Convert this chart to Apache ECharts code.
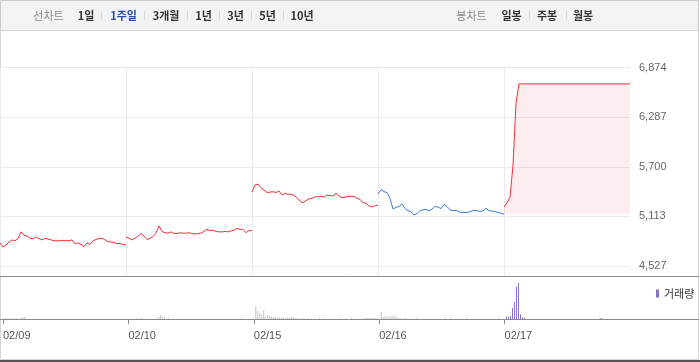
<!DOCTYPE html>
<html>
<head>
<meta charset="utf-8">
<script src="https://cdn.jsdelivr.net/npm/echarts@6/dist/echarts.min.js"></script>
<style>
html,body{margin:0;padding:0;background:#fff;}
#c{width:700px;height:362px;}
</style>
</head>
<body>
<div id="c"></div>
<script>
// ---- data ----
const dayLabels = ['02/09', '02/10', '02/15', '02/16', '02/17'];
const yTickLabels = ['4,527', '5,113', '5,700', '6,287', '6,874'];
const prevClose = 5140;

// price samples (evenly spaced through each session)
const day1 = [4800,4750,4775,4810,4835,4825,4850,4930,4890,4880,4855,4850,4870,4850,4835,4855,4845,4835,4825,4825,4825,4830,4825,4825,4835,4790,4800,4780,4755,4800,4780,4825,4840,4850,4855,4835,4815,4810,4805,4790,4795,4780,4775];
const day2 = [4870,4855,4835,4855,4880,4910,4880,4840,4855,4875,4915,5000,4935,4920,4915,4930,4910,4910,4920,4915,4915,4920,4910,4905,4910,4915,4935,4960,4945,4950,4935,4930,4930,4935,4930,4940,4950,4970,4960,4960,4920,4945,4945];
const day3 = [5400,5485,5495,5450,5425,5395,5400,5405,5395,5415,5365,5385,5375,5375,5360,5335,5295,5275,5300,5320,5325,5345,5345,5350,5340,5365,5360,5355,5385,5355,5335,5340,5350,5350,5350,5325,5315,5275,5270,5235,5225,5240,5245];
const day4 = [5375,5430,5405,5395,5330,5200,5220,5230,5260,5205,5180,5170,5130,5145,5180,5190,5195,5180,5200,5230,5225,5205,5255,5230,5190,5180,5185,5165,5160,5160,5160,5175,5185,5180,5170,5180,5210,5180,5175,5170,5160,5150,5140];
const day5 = [5225,5275,5340,5720,6450,
  6680,6680,6680,6680,6680,6680,6680,6680,6680,6680,
  6680,6680,6680,6680,6680,6680,6680,6680,6680,6680,
  6680,6680,6680,6680,6680,6680,6680,6680,6680,6680,
  6680,6680,6680,6680,6680,6680,6680,6680];

// volume samples (finer spacing)
const vol1 = [0,1000,800,0,1000,0,1200,800,0,1500,1500,2300,0,0,0,0,0,0,0,0,0,0,0,0,0,0,0,0,0,0,0,0,0,0,0,0,0,0,0,0,0,0,0,0,0,0,0,0,0,0,0,0,0,0,0,0,0,0,0,0,0,0,0];
const vol2 = [0,0,0,0,0,0,1000,800,0,0,0,0,0,0,0,1000,4300,2700,1700,0,1000,0,0,0,0,0,0,0,0,0,0,0,0,0,0,0,0,0,0,0,0,0,0,0,0,0,0,0,0,0,0,0,0,0,0,0,0,1000,0,0,0,0,0];
const vol3 = [0,12600,8000,6000,4300,8700,2000,3700,3300,2700,1500,2000,1200,1500,1000,1300,1000,1500,1200,2000,1300,800,1000,700,0,1000,0,800,0,600,0,0,0,700,0,600,0,0,0,0,0,0,0,700,0,0,0,0,0,1000,0,0,0,0,0,1000,800,1000,1000,1300,1000,1000,1200];
const vol4 = [0,6700,1500,2700,1700,2700,2300,3300,2700,1700,1000,1000,0,1000,0,0,0,0,0,1000,0,0,0,0,0,0,0,0,0,0,0,0,0,1000,0,0,1000,0,0,0,0,0,0,0,1000,0,0,0,0,0,0,0,0,0,0,0,0,0,0,0,1000,0,0];
const vol5 = [0,2300,2300,3000,11300,17300,32300,36300,4700,1700,1200,0,0,0,0,0,0,0,0,0,0,0,0,0,0,0,0,0,0,0,0,0,0,0,0,0,0,0,0,0,0,0,0,0,0,0,0,0,1000,1000,0,0,0,0,0,0,0,0,0,0,0,0,0];

// ---- build ----
const Y_MIN = 4526.5, Y_MAX = 6873.5, INTERVAL = 586.75;
const days = [day1, day2, day3, day4, day5];
const dayColors = ['#f2313b', '#f2313b', '#f2313b', '#3b7ddd', '#f2313b'];
const PK = day1.length - 1;               // price slots per day
const NP = PK * days.length + 1;
const priceCats = [];
for (let i = 0; i < NP; i++) priceCats.push(dayLabels[Math.min(Math.floor(i / PK), 4)] + '#' + (i % PK));
const vols = [vol1, vol2, vol3, vol4, vol5];
const VK = vol1.length;
const NV = VK * vols.length + 1;
const volCats = [];
for (let i = 0; i < NV; i++) volCats.push(dayLabels[Math.min(Math.floor(i / VK), 4)] + '@' + (i % VK));

const series = [];
days.forEach((arr, d) => {
  const data = new Array(NP).fill(null);
  arr.forEach((v, i) => { data[d * PK + i] = v; });
  const s = {
    type: 'line', xAxisIndex: 0, yAxisIndex: 0, data: data,
    symbol: 'none', silent: true, z: 3,
    lineStyle: { width: 1, color: dayColors[d] }
  };
  if (d === 4) {
    s.areaStyle = { origin: prevClose, color: 'rgba(245,60,70,0.13)' };
    s.markLine = {
      symbol: 'none', silent: true, label: { show: false },
      lineStyle: { type: [1, 2], color: '#555', width: 1 },
      data: [[{ coord: [priceCats[4 * PK], prevClose] }, { coord: [priceCats[5 * PK], prevClose] }]]
    };
  }
  series.push(s);
});
const grayVol = new Array(NV).fill(null);
const purpleVol = new Array(NV).fill(null);
vols.forEach((arr, d) => arr.forEach((v, j) => {
  if (d < 4) grayVol[d * VK + j] = v; else purpleVol[d * VK + j] = v;
}));
series.push({ type: 'bar', name: 'prev', xAxisIndex: 1, yAxisIndex: 1, data: grayVol, barWidth: 1, barGap: '-100%', itemStyle: { color: '#bfc2c8' }, silent: true });
series.push({ type: 'bar', name: '거래량', xAxisIndex: 1, yAxisIndex: 1, data: purpleVol, barWidth: 1, barGap: '-100%', itemStyle: { color: '#8670c2' }, silent: true });

const KR = '"Noto Sans CJK KR", sans-serif';
function t(text, x, color, bold) {
  return { type: 'text', x: x, y: 15.5, silent: true,
    style: { text: text, fill: color, font: (bold ? 'bold ' : '') + '11px ' + KR,
      align: 'center', verticalAlign: 'middle', textAlign: 'center', textVerticalAlign: 'middle' } };
}
function sep(x) {
  return { type: 'line', silent: true, shape: { x1: x + 0.5, y1: 11, x2: x + 0.5, y2: 20 }, style: { stroke: '#d9d9d9', lineWidth: 1 } };
}
const graphics = [
  { type: 'rect', silent: true, shape: { x: 0.5, y: 0.5, width: 698, height: 30 }, style: { fill: '#f2f3f7', stroke: '#c9cacd', lineWidth: 1 } },
  { type: 'rect', silent: true, shape: { x: 0.5, y: 30.5, width: 698, height: 329 }, style: { fill: 'none', stroke: '#d6d6d6', lineWidth: 1 } },
  { type: 'line', silent: true, shape: { x1: 0, y1: 276.5, x2: 699, y2: 276.5 }, style: { stroke: '#8a8a8a', lineWidth: 1 } },
  { type: 'line', silent: true, shape: { x1: 0, y1: 319.5, x2: 699, y2: 319.5 }, style: { stroke: '#8a8a8a', lineWidth: 1 } },
  { type: 'line', silent: true, shape: { x1: 0, y1: 361, x2: 700, y2: 361 }, style: { stroke: '#555', lineWidth: 2 } },
  t('선차트', 48.5, '#8a8a8a', false),
  t('1일', 86, '#333', true), sep(101),
  t('1주일', 123.5, '#2a4fa8', true), sep(144),
  t('3개월', 166, '#333', true), sep(187),
  t('1년', 203.5, '#333', true), sep(219),
  t('3년', 235.5, '#333', true), sep(251),
  t('5년', 267.5, '#333', true), sep(283),
  t('10년', 302, '#333', true),
  t('봉차트', 471.5, '#8a8a8a', false),
  t('일봉', 511.5, '#333', true), sep(529),
  t('주봉', 547, '#333', true), sep(566),
  t('월봉', 583, '#333', true)
];

const vSplit = { show: true, interval: (i) => i % PK === 0 && i < 5 * PK, lineStyle: { color: '#ebebeb', width: 1 } };

const chart = echarts.init(document.getElementById('c'), null, { renderer: 'canvas' });
chart.setOption({
  animation: false,
  backgroundColor: '#fff',
  grid: [
    { left: 0, top: 67.5, width: 630, height: 198.5 },
    { left: 0, top: 279, width: 630, height: 40 },
    { left: 0, top: 266, width: 630, height: 10 }
  ],
  legend: {
    data: ['거래량'], left: 651, top: 283, icon: 'rect', itemWidth: 3, itemHeight: 8,
    selectedMode: false, textStyle: { fontSize: 11, color: '#333', fontFamily: KR }
  },
  xAxis: [
    { type: 'category', gridIndex: 0, data: priceCats, boundaryGap: false,
      axisLine: { show: false }, axisTick: { show: false }, axisLabel: { show: false },
      splitLine: vSplit },
    { type: 'category', gridIndex: 1, data: volCats, boundaryGap: false,
      axisLine: { show: false },
      axisTick: { show: true, length: 5, interval: (i) => i % VK === 0 && i < 5 * VK, lineStyle: { color: '#8a8a8a' } },
      axisLabel: { show: true, interval: (i) => i % VK === 0 && i < 5 * VK,
        formatter: (v, i) => dayLabels[Math.floor(i / VK)],
        align: 'left', margin: 11, fontSize: 11, color: '#555', fontFamily: '"Liberation Sans", Arial, sans-serif' },
      splitLine: { show: false } },
    { type: 'category', gridIndex: 2, data: priceCats, boundaryGap: false,
      axisLine: { show: false }, axisTick: { show: false }, axisLabel: { show: false },
      splitLine: vSplit }
  ],
  yAxis: [
    { type: 'value', gridIndex: 0, position: 'right', min: Y_MIN, max: Y_MAX, interval: INTERVAL,
      axisLine: { show: false }, axisTick: { show: false },
      splitLine: { show: true, lineStyle: { color: '#ebebeb', width: 1 } },
      axisLabel: { margin: 9, fontSize: 11, color: '#666', fontFamily: '"Liberation Sans", Arial, sans-serif',
        formatter: (v) => yTickLabels[Math.round((v - Y_MIN) / INTERVAL)] } },
    { type: 'value', gridIndex: 1, min: 0, max: 40000, show: false, splitLine: { show: false } },
    { type: 'value', gridIndex: 2, min: 0, max: 1, show: false, splitLine: { show: false } }
  ],
  series: series,
  graphic: graphics
});
</script>
</body>
</html>
